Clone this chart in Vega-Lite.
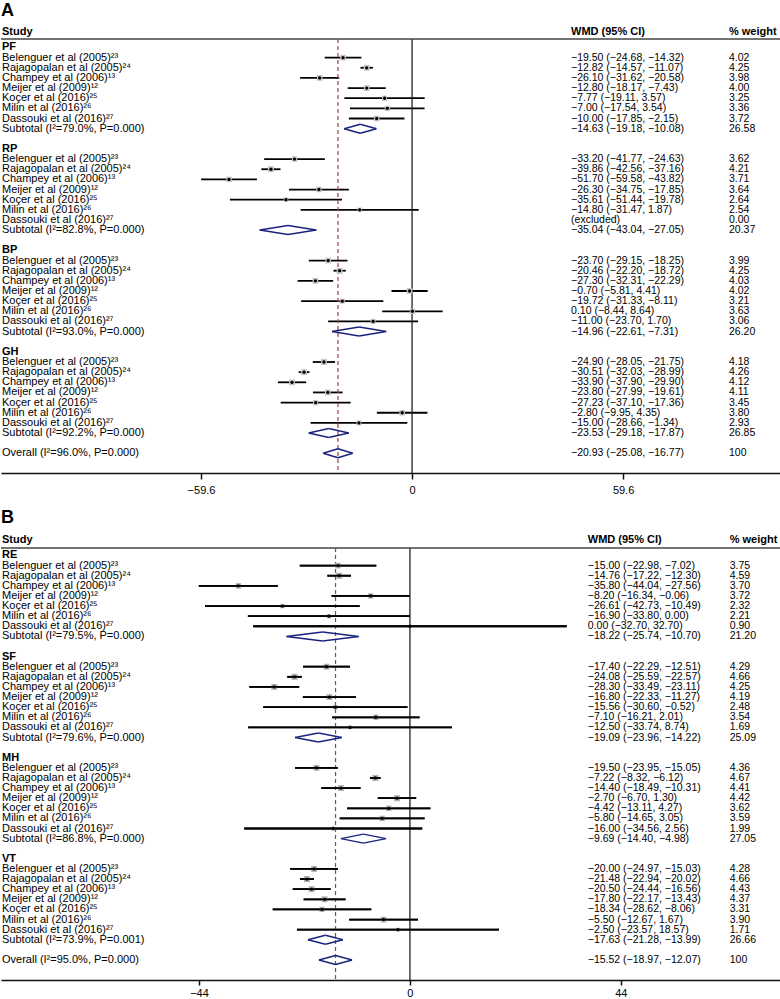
{
"$schema": "https://vega.github.io/schema/vega-lite/v6.json",
"padding": {"top": 2, "left": 0, "right": 0, "bottom": 0},
"spacing": 14,
"config": {"view": {"stroke": null}, "axis": {"grid": false, "domainColor": "#111", "domainWidth": 1.5, "tickColor": "#111", "tickWidth": 1.5, "tickSize": 6, "labelPadding": 5, "labelColor": "#000", "labelFont": "Liberation Sans", "labelFontSize": 11, "title": null}, "title": {"anchor": "start", "fontSize": 18, "fontWeight": "bold", "font": "Liberation Sans", "color": "#000", "frame": "group"}},
"datasets": {
"A": [
{"r":-1.5,"kind":"header","label":"Study","wmd":"WMD (95% CI)","wt":"% weight"},
{"r":0,"kind":"group","label":"PF"},
{"r":1,"kind":"study","label":"Belenguer et al (2005)²³","wmd":"−19.50 (−24.68, −14.32)","wt":"4.02","w":4.02,"est":-19.5,"lo":-24.68,"hi":-14.32},
{"r":2,"kind":"study","label":"Rajagopalan et al (2005)²⁴","wmd":"−12.82 (−14.57, −11.07)","wt":"4.25","w":4.25,"est":-12.82,"lo":-14.57,"hi":-11.07},
{"r":3,"kind":"study","label":"Champey et al (2006)¹³","wmd":"−26.10 (−31.62, −20.58)","wt":"3.98","w":3.98,"est":-26.1,"lo":-31.62,"hi":-20.58},
{"r":4,"kind":"study","label":"Meijer et al (2009)¹²","wmd":"−12.80 (−18.17, −7.43)","wt":"4.00","w":4.0,"est":-12.8,"lo":-18.17,"hi":-7.43},
{"r":5,"kind":"study","label":"Koçer et al (2016)²⁵","wmd":"−7.77 (−19.11, 3.57)","wt":"3.25","w":3.25,"est":-7.77,"lo":-19.11,"hi":3.57},
{"r":6,"kind":"study","label":"Milin et al (2016)²⁶","wmd":"−7.00 (−17.54, 3.54)","wt":"3.36","w":3.36,"est":-7.0,"lo":-17.54,"hi":3.54},
{"r":7,"kind":"study","label":"Dassouki et al (2016)²⁷","wmd":"−10.00 (−17.85, −2.15)","wt":"3.72","w":3.72,"est":-10.0,"lo":-17.85,"hi":-2.15},
{"r":8,"kind":"subtotal","label":"Subtotal (I²=79.0%, P=0.000)","wmd":"−14.63 (−19.18, −10.08)","wt":"26.58","est":-14.63,"lo":-19.18,"hi":-10.08},
{"r":10,"kind":"group","label":"RP"},
{"r":11,"kind":"study","label":"Belenguer et al (2005)²³","wmd":"−33.20 (−41.77, −24.63)","wt":"3.62","w":3.62,"est":-33.2,"lo":-41.77,"hi":-24.63},
{"r":12,"kind":"study","label":"Rajagopalan et al (2005)²⁴","wmd":"−39.86 (−42.56, −37.16)","wt":"4.21","w":4.21,"est":-39.86,"lo":-42.56,"hi":-37.16},
{"r":13,"kind":"study","label":"Champey et al (2006)¹³","wmd":"−51.70 (−59.58, −43.82)","wt":"3.71","w":3.71,"est":-51.7,"lo":-59.58,"hi":-43.82},
{"r":14,"kind":"study","label":"Meijer et al (2009)¹²","wmd":"−26.30 (−34.75, −17.85)","wt":"3.64","w":3.64,"est":-26.3,"lo":-34.75,"hi":-17.85},
{"r":15,"kind":"study","label":"Koçer et al (2016)²⁵","wmd":"−35.61 (−51.44, −19.78)","wt":"2.64","w":2.64,"est":-35.61,"lo":-51.44,"hi":-19.78},
{"r":16,"kind":"study","label":"Milin et al (2016)²⁶","wmd":"−14.80 (−31.47, 1.87)","wt":"2.54","w":2.54,"est":-14.8,"lo":-31.47,"hi":1.87},
{"r":17,"kind":"study","label":"Dassouki et al (2016)²⁷","wmd":"(excluded)","wt":"0.00","w":0},
{"r":18,"kind":"subtotal","label":"Subtotal (I²=82.8%, P=0.000)","wmd":"−35.04 (−43.04, −27.05)","wt":"20.37","est":-35.04,"lo":-43.04,"hi":-27.05},
{"r":20,"kind":"group","label":"BP"},
{"r":21,"kind":"study","label":"Belenguer et al (2005)²³","wmd":"−23.70 (−29.15, −18.25)","wt":"3.99","w":3.99,"est":-23.7,"lo":-29.15,"hi":-18.25},
{"r":22,"kind":"study","label":"Rajagopalan et al (2005)²⁴","wmd":"−20.46 (−22.20, −18.72)","wt":"4.25","w":4.25,"est":-20.46,"lo":-22.2,"hi":-18.72},
{"r":23,"kind":"study","label":"Champey et al (2006)¹³","wmd":"−27.30 (−32.31, −22.29)","wt":"4.03","w":4.03,"est":-27.3,"lo":-32.31,"hi":-22.29},
{"r":24,"kind":"study","label":"Meijer et al (2009)¹²","wmd":"−0.70 (−5.81, 4.41)","wt":"4.02","w":4.02,"est":-0.7,"lo":-5.81,"hi":4.41},
{"r":25,"kind":"study","label":"Koçer et al (2016)²⁵","wmd":"−19.72 (−31.33, −8.11)","wt":"3.21","w":3.21,"est":-19.72,"lo":-31.33,"hi":-8.11},
{"r":26,"kind":"study","label":"Milin et al (2016)²⁶","wmd":"0.10 (−8.44, 8.64)","wt":"3.63","w":3.63,"est":0.1,"lo":-8.44,"hi":8.64},
{"r":27,"kind":"study","label":"Dassouki et al (2016)²⁷","wmd":"−11.00 (−23.70, 1.70)","wt":"3.06","w":3.06,"est":-11.0,"lo":-23.7,"hi":1.7},
{"r":28,"kind":"subtotal","label":"Subtotal (I²=93.0%, P=0.000)","wmd":"−14.96 (−22.61, −7.31)","wt":"26.20","est":-14.96,"lo":-22.61,"hi":-7.31},
{"r":30,"kind":"group","label":"GH"},
{"r":31,"kind":"study","label":"Belenguer et al (2005)²³","wmd":"−24.90 (−28.05, −21.75)","wt":"4.18","w":4.18,"est":-24.9,"lo":-28.05,"hi":-21.75},
{"r":32,"kind":"study","label":"Rajagopalan et al (2005)²⁴","wmd":"−30.51 (−32.03, −28.99)","wt":"4.26","w":4.26,"est":-30.51,"lo":-32.03,"hi":-28.99},
{"r":33,"kind":"study","label":"Champey et al (2006)¹³","wmd":"−33.90 (−37.90, −29.90)","wt":"4.12","w":4.12,"est":-33.9,"lo":-37.9,"hi":-29.9},
{"r":34,"kind":"study","label":"Meijer et al (2009)¹²","wmd":"−23.80 (−27.99, −19.61)","wt":"4.11","w":4.11,"est":-23.8,"lo":-27.99,"hi":-19.61},
{"r":35,"kind":"study","label":"Koçer et al (2016)²⁵","wmd":"−27.23 (−37.10, −17.36)","wt":"3.45","w":3.45,"est":-27.23,"lo":-37.1,"hi":-17.36},
{"r":36,"kind":"study","label":"Milin et al (2016)²⁶","wmd":"−2.80 (−9.95, 4.35)","wt":"3.80","w":3.8,"est":-2.8,"lo":-9.95,"hi":4.35},
{"r":37,"kind":"study","label":"Dassouki et al (2016)²⁷","wmd":"−15.00 (−28.66, −1.34)","wt":"2.93","w":2.93,"est":-15.0,"lo":-28.66,"hi":-1.34},
{"r":38,"kind":"subtotal","label":"Subtotal (I²=92.2%, P=0.000)","wmd":"−23.53 (−29.18, −17.87)","wt":"26.85","est":-23.53,"lo":-29.18,"hi":-17.87},
{"r":40,"kind":"overall","label":"Overall (I²=96.0%, P=0.000)","wmd":"−20.93 (−25.08, −16.77)","wt":"100","est":-20.93,"lo":-25.08,"hi":-16.77}
],
"B": [
{"r":-1.5,"kind":"header","label":"Study","wmd":"WMD (95% CI)","wt":"% weight"},
{"r":0,"kind":"group","label":"RE"},
{"r":1,"kind":"study","label":"Belenguer et al (2005)²³","wmd":"−15.00 (−22.98, −7.02)","wt":"3.75","w":3.75,"est":-15.0,"lo":-22.98,"hi":-7.02},
{"r":2,"kind":"study","label":"Rajagopalan et al (2005)²⁴","wmd":"−14.76 (−17.22, −12.30)","wt":"4.59","w":4.59,"est":-14.76,"lo":-17.22,"hi":-12.3},
{"r":3,"kind":"study","label":"Champey et al (2006)¹³","wmd":"−35.80 (−44.04, −27.56)","wt":"3.70","w":3.7,"est":-35.8,"lo":-44.04,"hi":-27.56},
{"r":4,"kind":"study","label":"Meijer et al (2009)¹²","wmd":"−8.20 (−16.34, −0.06)","wt":"3.72","w":3.72,"est":-8.2,"lo":-16.34,"hi":-0.06},
{"r":5,"kind":"study","label":"Koçer et al (2016)²⁵","wmd":"−26.61 (−42.73, −10.49)","wt":"2.32","w":2.32,"est":-26.61,"lo":-42.73,"hi":-10.49},
{"r":6,"kind":"study","label":"Milin et al (2016)²⁶","wmd":"−16.90 (−33.80, 0.00)","wt":"2.21","w":2.21,"est":-16.9,"lo":-33.8,"hi":0.0},
{"r":7,"kind":"study","label":"Dassouki et al (2016)²⁷","wmd":"0.00 (−32.70, 32.70)","wt":"0.90","w":0.9,"est":0.0,"lo":-32.7,"hi":32.7},
{"r":8,"kind":"subtotal","label":"Subtotal (I²=79.5%, P=0.000)","wmd":"−18.22 (−25.74, −10.70)","wt":"21.20","est":-18.22,"lo":-25.74,"hi":-10.7},
{"r":10,"kind":"group","label":"SF"},
{"r":11,"kind":"study","label":"Belenguer et al (2005)²³","wmd":"−17.40 (−22.29, −12.51)","wt":"4.29","w":4.29,"est":-17.4,"lo":-22.29,"hi":-12.51},
{"r":12,"kind":"study","label":"Rajagopalan et al (2005)²⁴","wmd":"−24.08 (−25.59, −22.57)","wt":"4.66","w":4.66,"est":-24.08,"lo":-25.59,"hi":-22.57},
{"r":13,"kind":"study","label":"Champey et al (2006)¹³","wmd":"−28.30 (−33.49, −23.11)","wt":"4.25","w":4.25,"est":-28.3,"lo":-33.49,"hi":-23.11},
{"r":14,"kind":"study","label":"Meijer et al (2009)¹²","wmd":"−16.80 (−22.33, −11.27)","wt":"4.19","w":4.19,"est":-16.8,"lo":-22.33,"hi":-11.27},
{"r":15,"kind":"study","label":"Koçer et al (2016)²⁵","wmd":"−15.56 (−30.60, −0.52)","wt":"2.48","w":2.48,"est":-15.56,"lo":-30.6,"hi":-0.52},
{"r":16,"kind":"study","label":"Milin et al (2016)²⁶","wmd":"−7.10 (−16.21, 2.01)","wt":"3.54","w":3.54,"est":-7.1,"lo":-16.21,"hi":2.01},
{"r":17,"kind":"study","label":"Dassouki et al (2016)²⁷","wmd":"−12.50 (−33.74, 8.74)","wt":"1.69","w":1.69,"est":-12.5,"lo":-33.74,"hi":8.74},
{"r":18,"kind":"subtotal","label":"Subtotal (I²=79.6%, P=0.000)","wmd":"−19.09 (−23.96, −14.22)","wt":"25.09","est":-19.09,"lo":-23.96,"hi":-14.22},
{"r":20,"kind":"group","label":"MH"},
{"r":21,"kind":"study","label":"Belenguer et al (2005)²³","wmd":"−19.50 (−23.95, −15.05)","wt":"4.36","w":4.36,"est":-19.5,"lo":-23.95,"hi":-15.05},
{"r":22,"kind":"study","label":"Rajagopalan et al (2005)²⁴","wmd":"−7.22 (−8.32, −6.12)","wt":"4.67","w":4.67,"est":-7.22,"lo":-8.32,"hi":-6.12},
{"r":23,"kind":"study","label":"Champey et al (2006)¹³","wmd":"−14.40 (−18.49, −10.31)","wt":"4.41","w":4.41,"est":-14.4,"lo":-18.49,"hi":-10.31},
{"r":24,"kind":"study","label":"Meijer et al (2009)¹²","wmd":"−2.70 (−6.70, 1.30)","wt":"4.42","w":4.42,"est":-2.7,"lo":-6.7,"hi":1.3},
{"r":25,"kind":"study","label":"Koçer et al (2016)²⁵","wmd":"−4.42 (−13.11, 4.27)","wt":"3.62","w":3.62,"est":-4.42,"lo":-13.11,"hi":4.27},
{"r":26,"kind":"study","label":"Milin et al (2016)²⁶","wmd":"−5.80 (−14.65, 3.05)","wt":"3.59","w":3.59,"est":-5.8,"lo":-14.65,"hi":3.05},
{"r":27,"kind":"study","label":"Dassouki et al (2016)²⁷","wmd":"−16.00 (−34.56, 2.56)","wt":"1.99","w":1.99,"est":-16.0,"lo":-34.56,"hi":2.56},
{"r":28,"kind":"subtotal","label":"Subtotal (I²=86.8%, P=0.000)","wmd":"−9.69 (−14.40, −4.98)","wt":"27.05","est":-9.69,"lo":-14.4,"hi":-4.98},
{"r":30,"kind":"group","label":"VT"},
{"r":31,"kind":"study","label":"Belenguer et al (2005)²³","wmd":"−20.00 (−24.97, −15.03)","wt":"4.28","w":4.28,"est":-20.0,"lo":-24.97,"hi":-15.03},
{"r":32,"kind":"study","label":"Rajagopalan et al (2005)²⁴","wmd":"−21.48 (−22.94, −20.02)","wt":"4.66","w":4.66,"est":-21.48,"lo":-22.94,"hi":-20.02},
{"r":33,"kind":"study","label":"Champey et al (2006)¹³","wmd":"−20.50 (−24.44, −16.56)","wt":"4.43","w":4.43,"est":-20.5,"lo":-24.44,"hi":-16.56},
{"r":34,"kind":"study","label":"Meijer et al (2009)¹²","wmd":"−17.80 (−22.17, −13.43)","wt":"4.37","w":4.37,"est":-17.8,"lo":-22.17,"hi":-13.43},
{"r":35,"kind":"study","label":"Koçer et al (2016)²⁵","wmd":"−18.34 (−28.62, −8.06)","wt":"3.31","w":3.31,"est":-18.34,"lo":-28.62,"hi":-8.06},
{"r":36,"kind":"study","label":"Milin et al (2016)²⁶","wmd":"−5.50 (−12.67, 1.67)","wt":"3.90","w":3.9,"est":-5.5,"lo":-12.67,"hi":1.67},
{"r":37,"kind":"study","label":"Dassouki et al (2016)²⁷","wmd":"−2.50 (−23.57, 18.57)","wt":"1.71","w":1.71,"est":-2.5,"lo":-23.57,"hi":18.57},
{"r":38,"kind":"subtotal","label":"Subtotal (I²=73.9%, P=0.001)","wmd":"−17.63 (−21.28, −13.99)","wt":"26.66","est":-17.63,"lo":-21.28,"hi":-13.99},
{"r":40,"kind":"overall","label":"Overall (I²=95.0%, P=0.000)","wmd":"−15.52 (−18.97, −12.07)","wt":"100","est":-15.52,"lo":-18.97,"hi":-12.07}
]
},
"vconcat": [
{
"title": {"text": "A", "offset": 6},
"width": 780, "height": 434,
"data": {"name": "A"},
"layer": [
{"transform": [{"filter": "datum.kind == 'study' && isValid(datum.lo)"}], "mark": {"type": "rule", "color": "#000", "strokeWidth": 1.8}, "encoding": {"x": {"field": "lo", "type": "quantitative", "scale": {"domain": [-116.1, 104.2], "nice": false, "zero": false}, "axis": {"values": [-59.6, 0, 59.6], "labelExpr": "datum.value == 0 ? '0' : format(datum.value, '.1f')", "title": null}}, "x2": {"field": "hi"}, "y": {"field": "r", "type": "quantitative", "scale": {"domain": [-0.837, 41.94], "reverse": true, "nice": false, "zero": false}, "axis": null}}},
{"data": {"values": [{}]}, "mark": {"type": "rule", "color": "#222", "strokeWidth": 1.3}, "encoding": {"x": {"datum": 0, "type": "quantitative"}}},
{"data": {"values": [{}]}, "mark": {"type": "rule", "color": "#444", "strokeWidth": 1.3}, "encoding": {"y": {"datum": -0.837, "type": "quantitative", "axis": null}}},
{"transform": [{"filter": "datum.kind == 'overall'"}], "mark": {"type": "rule", "color": "#a04040", "strokeDash": [4, 3], "strokeWidth": 1.2}, "encoding": {"x": {"field": "est", "type": "quantitative"}}},
{"transform": [{"filter": "datum.kind == 'study' && isValid(datum.est)"}], "mark": {"type": "square", "color": "#c4c4c4", "opacity": 1}, "encoding": {"x": {"field": "est", "type": "quantitative"}, "y": {"field": "r", "type": "quantitative", "axis": null}, "size": {"field": "w", "type": "quantitative", "scale": {"domain": [0, 4.26], "range": [0, 38]}, "legend": null}}},
{"transform": [{"filter": "datum.kind == 'study' && isValid(datum.est)"}], "mark": {"type": "circle", "color": "#000", "opacity": 1, "size": 11}, "encoding": {"x": {"field": "est", "type": "quantitative"}, "y": {"field": "r", "type": "quantitative", "axis": null}}},
{"transform": [{"filter": "datum.kind == 'subtotal' || datum.kind == 'overall'"}], "mark": {"type": "rule", "color": "#1a237e", "strokeWidth": 1.5, "y2Offset": -4.5}, "encoding": {"x": {"field": "lo", "type": "quantitative"}, "x2": {"field": "est"}, "y": {"field": "r", "type": "quantitative", "axis": null}, "y2": {"field": "r"}}},
{"transform": [{"filter": "datum.kind == 'subtotal' || datum.kind == 'overall'"}], "mark": {"type": "rule", "color": "#1a237e", "strokeWidth": 1.5, "y2Offset": 4.5}, "encoding": {"x": {"field": "lo", "type": "quantitative"}, "x2": {"field": "est"}, "y": {"field": "r", "type": "quantitative", "axis": null}, "y2": {"field": "r"}}},
{"transform": [{"filter": "datum.kind == 'subtotal' || datum.kind == 'overall'"}], "mark": {"type": "rule", "color": "#1a237e", "strokeWidth": 1.5, "yOffset": -4.5}, "encoding": {"x": {"field": "est", "type": "quantitative"}, "x2": {"field": "hi"}, "y": {"field": "r", "type": "quantitative", "axis": null}, "y2": {"field": "r"}}},
{"transform": [{"filter": "datum.kind == 'subtotal' || datum.kind == 'overall'"}], "mark": {"type": "rule", "color": "#1a237e", "strokeWidth": 1.5, "yOffset": 4.5}, "encoding": {"x": {"field": "est", "type": "quantitative"}, "x2": {"field": "hi"}, "y": {"field": "r", "type": "quantitative", "axis": null}, "y2": {"field": "r"}}},
{"transform": [{"filter": "datum.kind == 'study' || datum.kind == 'subtotal' || datum.kind == 'overall'"}], "mark": {"type": "text", "align": "left", "baseline": "middle", "font": "Liberation Sans", "fontSize": 11, "color": "#000", "dx": 1}, "encoding": {"x": {"datum": -116.1, "type": "quantitative"}, "y": {"field": "r", "type": "quantitative", "axis": null}, "text": {"field": "label"}}},
{"transform": [{"filter": "datum.kind == 'group' || datum.kind == 'header'"}], "mark": {"type": "text", "align": "left", "baseline": "middle", "font": "Liberation Sans", "fontSize": 11, "fontWeight": "bold", "color": "#000", "dx": 1}, "encoding": {"x": {"datum": -116.1, "type": "quantitative"}, "y": {"field": "r", "type": "quantitative", "axis": null}, "text": {"field": "label"}}},
{"transform": [{"filter": "datum.kind == 'study' || datum.kind == 'subtotal' || datum.kind == 'overall'"}], "mark": {"type": "text", "align": "left", "baseline": "middle", "font": "Liberation Sans", "fontSize": 10.5, "color": "#000"}, "encoding": {"x": {"datum": 44.9, "type": "quantitative"}, "y": {"field": "r", "type": "quantitative", "axis": null}, "text": {"field": "wmd"}}},
{"transform": [{"filter": "datum.kind == 'header'"}], "mark": {"type": "text", "align": "left", "baseline": "middle", "font": "Liberation Sans", "fontSize": 11, "fontWeight": "bold", "color": "#000"}, "encoding": {"x": {"datum": 44.9, "type": "quantitative"}, "y": {"field": "r", "type": "quantitative", "axis": null}, "text": {"field": "wmd"}}},
{"transform": [{"filter": "datum.kind == 'study' || datum.kind == 'subtotal' || datum.kind == 'overall'"}], "mark": {"type": "text", "align": "left", "baseline": "middle", "font": "Liberation Sans", "fontSize": 10.5, "color": "#000"}, "encoding": {"x": {"datum": 89.5, "type": "quantitative"}, "y": {"field": "r", "type": "quantitative", "axis": null}, "text": {"field": "wt"}}},
{"transform": [{"filter": "datum.kind == 'header'"}], "mark": {"type": "text", "align": "left", "baseline": "middle", "font": "Liberation Sans", "fontSize": 11, "fontWeight": "bold", "color": "#000"}, "encoding": {"x": {"datum": 89.5, "type": "quantitative"}, "y": {"field": "r", "type": "quantitative", "axis": null}, "text": {"field": "wt"}}}
]
},
{
"title": {"text": "B", "offset": 7},
"width": 780, "height": 432,
"data": {"name": "B"},
"layer": [
{"transform": [{"filter": "datum.kind == 'study' && isValid(datum.lo)"}], "mark": {"type": "rule", "color": "#000", "strokeWidth": 1.8}, "encoding": {"x": {"field": "lo", "type": "quantitative", "scale": {"domain": [-85.3, 77.4], "nice": false, "zero": false}, "axis": {"values": [-44, 0, 44], "format": "d", "title": null, "tickSize": 5, "labelPadding": 2}}, "x2": {"field": "hi"}, "y": {"field": "r", "type": "quantitative", "scale": {"domain": [-0.74, 41.98], "reverse": true, "nice": false, "zero": false}, "axis": null}}},
{"data": {"values": [{}]}, "mark": {"type": "rule", "color": "#222", "strokeWidth": 1.3}, "encoding": {"x": {"datum": 0, "type": "quantitative"}}},
{"data": {"values": [{}]}, "mark": {"type": "rule", "color": "#444", "strokeWidth": 1.3}, "encoding": {"y": {"datum": -0.74, "type": "quantitative", "axis": null}}},
{"transform": [{"filter": "datum.kind == 'overall'"}], "mark": {"type": "rule", "color": "#a04040", "strokeDash": [4, 3], "strokeWidth": 1.2}, "encoding": {"x": {"field": "est", "type": "quantitative"}}},
{"transform": [{"filter": "datum.kind == 'study' && isValid(datum.est)"}], "mark": {"type": "square", "color": "#b4b4b4", "opacity": 1}, "encoding": {"x": {"field": "est", "type": "quantitative"}, "y": {"field": "r", "type": "quantitative", "axis": null}, "size": {"field": "w", "type": "quantitative", "scale": {"domain": [0, 4.67], "range": [0, 80]}, "legend": null}}},
{"transform": [{"filter": "datum.kind == 'study' && isValid(datum.lo)"}], "mark": {"type": "rule", "color": "#000", "strokeWidth": 1.8}, "encoding": {"x": {"field": "lo", "type": "quantitative"}, "x2": {"field": "hi"}, "y": {"field": "r", "type": "quantitative", "axis": null}}},
{"transform": [{"filter": "datum.kind == 'study' && isValid(datum.est)"}], "mark": {"type": "circle", "color": "#000", "opacity": 1, "size": 11}, "encoding": {"x": {"field": "est", "type": "quantitative"}, "y": {"field": "r", "type": "quantitative", "axis": null}}},
{"transform": [{"filter": "datum.kind == 'subtotal' || datum.kind == 'overall'"}], "mark": {"type": "rule", "color": "#1a237e", "strokeWidth": 1.5, "y2Offset": -4.5}, "encoding": {"x": {"field": "lo", "type": "quantitative"}, "x2": {"field": "est"}, "y": {"field": "r", "type": "quantitative", "axis": null}, "y2": {"field": "r"}}},
{"transform": [{"filter": "datum.kind == 'subtotal' || datum.kind == 'overall'"}], "mark": {"type": "rule", "color": "#1a237e", "strokeWidth": 1.5, "y2Offset": 4.5}, "encoding": {"x": {"field": "lo", "type": "quantitative"}, "x2": {"field": "est"}, "y": {"field": "r", "type": "quantitative", "axis": null}, "y2": {"field": "r"}}},
{"transform": [{"filter": "datum.kind == 'subtotal' || datum.kind == 'overall'"}], "mark": {"type": "rule", "color": "#1a237e", "strokeWidth": 1.5, "yOffset": -4.5}, "encoding": {"x": {"field": "est", "type": "quantitative"}, "x2": {"field": "hi"}, "y": {"field": "r", "type": "quantitative", "axis": null}, "y2": {"field": "r"}}},
{"transform": [{"filter": "datum.kind == 'subtotal' || datum.kind == 'overall'"}], "mark": {"type": "rule", "color": "#1a237e", "strokeWidth": 1.5, "yOffset": 4.5}, "encoding": {"x": {"field": "est", "type": "quantitative"}, "x2": {"field": "hi"}, "y": {"field": "r", "type": "quantitative", "axis": null}, "y2": {"field": "r"}}},
{"transform": [{"filter": "datum.kind == 'study' || datum.kind == 'subtotal' || datum.kind == 'overall'"}], "mark": {"type": "text", "align": "left", "baseline": "middle", "font": "Liberation Sans", "fontSize": 11, "color": "#000", "dx": 1}, "encoding": {"x": {"datum": -85.3, "type": "quantitative"}, "y": {"field": "r", "type": "quantitative", "axis": null}, "text": {"field": "label"}}},
{"transform": [{"filter": "datum.kind == 'group' || datum.kind == 'header'"}], "mark": {"type": "text", "align": "left", "baseline": "middle", "font": "Liberation Sans", "fontSize": 11, "fontWeight": "bold", "color": "#000", "dx": 1}, "encoding": {"x": {"datum": -85.3, "type": "quantitative"}, "y": {"field": "r", "type": "quantitative", "axis": null}, "text": {"field": "label"}}},
{"transform": [{"filter": "datum.kind == 'study' || datum.kind == 'subtotal' || datum.kind == 'overall'"}], "mark": {"type": "text", "align": "left", "baseline": "middle", "font": "Liberation Sans", "fontSize": 10.5, "color": "#000"}, "encoding": {"x": {"datum": 37.1, "type": "quantitative"}, "y": {"field": "r", "type": "quantitative", "axis": null}, "text": {"field": "wmd"}}},
{"transform": [{"filter": "datum.kind == 'header'"}], "mark": {"type": "text", "align": "left", "baseline": "middle", "font": "Liberation Sans", "fontSize": 11, "fontWeight": "bold", "color": "#000"}, "encoding": {"x": {"datum": 37.1, "type": "quantitative"}, "y": {"field": "r", "type": "quantitative", "axis": null}, "text": {"field": "wmd"}}},
{"transform": [{"filter": "datum.kind == 'study' || datum.kind == 'subtotal' || datum.kind == 'overall'"}], "mark": {"type": "text", "align": "left", "baseline": "middle", "font": "Liberation Sans", "fontSize": 10.5, "color": "#000"}, "encoding": {"x": {"datum": 66.7, "type": "quantitative"}, "y": {"field": "r", "type": "quantitative", "axis": null}, "text": {"field": "wt"}}},
{"transform": [{"filter": "datum.kind == 'header'"}], "mark": {"type": "text", "align": "left", "baseline": "middle", "font": "Liberation Sans", "fontSize": 11, "fontWeight": "bold", "color": "#000"}, "encoding": {"x": {"datum": 66.7, "type": "quantitative"}, "y": {"field": "r", "type": "quantitative", "axis": null}, "text": {"field": "wt"}}}
]
}
]
}
